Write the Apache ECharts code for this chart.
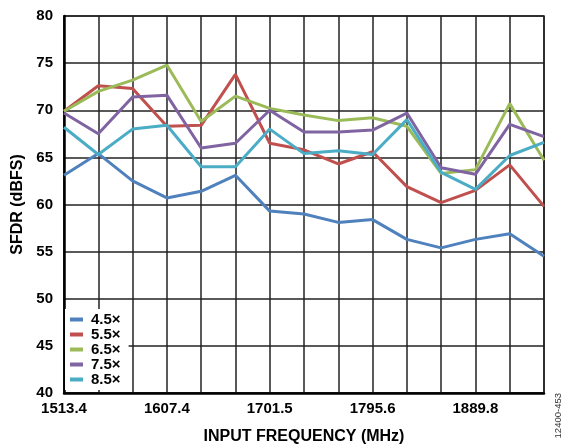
<!DOCTYPE html>
<html>
<head>
<meta charset="utf-8">
<script src="https://cdn.jsdelivr.net/npm/echarts@6/dist/echarts.min.js"></script>
<style>
  html, body { margin: 0; padding: 0; background: #fff; }
  #chart { width: 564px; height: 446px; }
</style>
</head>
<body>
<div id="chart"></div>
<script>
// Input frequencies (MHz); only every third one carries a label
var frequencies = ['1513.4', '1544.8', '1576.1', '1607.4', '1638.8', '1670.2', '1701.5',
  '1732.9', '1764.3', '1795.6', '1827.0', '1858.4', '1889.8', '1921.1', '1952.5'];

// SFDR (dBFS) per decimation/interpolation setting
var sfdr45 = [63.1, 65.4, 62.5, 60.7, 61.4, 63.1, 59.3, 59.0, 58.1, 58.4, 56.3, 55.4, 56.3, 56.9, 54.5];
var sfdr55 = [69.9, 72.6, 72.3, 68.3, 68.4, 73.8, 66.5, 65.8, 64.3, 65.6, 61.9, 60.2, 61.5, 64.2, 59.8];
var sfdr65 = [69.9, 72.0, 73.2, 74.8, 68.8, 71.5, 70.2, 69.5, 68.9, 69.2, 68.3, 63.3, 63.7, 70.7, 64.7];
var sfdr75 = [69.7, 67.5, 71.4, 71.6, 66.0, 66.5, 70.0, 67.7, 67.7, 67.9, 69.7, 63.9, 63.2, 68.5, 67.2];
var sfdr85 = [68.2, 65.3, 68.0, 68.4, 64.0, 64.0, 68.0, 65.4, 65.7, 65.3, 69.0, 63.4, 61.6, 65.2, 66.6];

var seriesNames = ['4.5×', '5.5×', '6.5×', '7.5×', '8.5×'];
var seriesColors = ['#4F81BD', '#C0504D', '#9BBB59', '#8064A2', '#4BACC6'];
var seriesData = [sfdr45, sfdr55, sfdr65, sfdr75, sfdr85];

var yMin = 40, yMax = 80, yStep = 5;

var font = 'Liberation Sans, Arial, sans-serif';

var chart = echarts.init(document.getElementById('chart'), null, { renderer: 'canvas' });

var series = seriesNames.map(function (name, i) {
  return {
    name: name,
    type: 'line',
    data: seriesData[i],
    showSymbol: false,
    symbol: 'none',
    color: seriesColors[i],
    lineStyle: { width: 3, color: seriesColors[i] },
    z: 3
  };
});

chart.setOption({
  animation: false,
  backgroundColor: '#ffffff',
  grid: {
    left: 64, right: 20, top: 16, bottom: 53,
    outerBoundsMode: 'none',
    containLabel: false,
    show: true,
    borderColor: '#222',
    borderWidth: 1.5
  },
  legend: {
    orient: 'vertical',
    left: 65,
    top: 309,
    itemWidth: 13,
    itemHeight: 4,
    itemGap: 0,
    icon: 'rect',
    backgroundColor: '#ffffff',
    padding: [3, 8, 3, 5],
    z: 10,
    textStyle: {
      fontFamily: font,
      fontWeight: 'bold',
      fontSize: 15,
      lineHeight: 15,
      color: '#000',
      padding: [0, 0, 0, 3]
    },
    data: seriesNames
  },
  xAxis: {
    type: 'category',
    data: frequencies,
    boundaryGap: false,
    name: 'INPUT FREQUENCY (MHz)',
    nameLocation: 'middle',
    nameGap: 36,
    nameTextStyle: { fontFamily: font, fontWeight: 'bold', fontSize: 16, color: '#000' },
    axisLine: { show: true, lineStyle: { color: '#000', width: 2.5 } },
    axisTick: { show: false },
    axisLabel: {
      interval: 2,
      margin: 8,
      fontFamily: font,
      fontWeight: 'bold',
      fontSize: 15,
      color: '#000'
    },
    splitLine: { show: true, interval: 0, lineStyle: { color: '#222', width: 1.5 } }
  },
  yAxis: {
    type: 'value',
    min: yMin,
    max: yMax,
    interval: yStep,
    name: 'SFDR (dBFS)',
    nameLocation: 'middle',
    nameGap: 38,
    nameTextStyle: { fontFamily: font, fontWeight: 'bold', fontSize: 16, color: '#000' },
    axisLine: { show: true, lineStyle: { color: '#000', width: 2.5 } },
    axisTick: { show: false },
    axisLabel: {
      margin: 11,
      fontFamily: font,
      fontWeight: 'bold',
      fontSize: 15,
      color: '#000'
    },
    splitLine: { show: true, lineStyle: { color: '#222', width: 1.5 } }
  },
  graphic: [{
    type: 'text',
    left: 553,
    top: 393,
    rotation: Math.PI / 2,
    originX: 0,
    originY: 0,
    style: {
      text: '12400-453',
      fontFamily: font,
      fontSize: 9.5,
      fill: '#333'
    }
  }],
  series: series
});
</script>
</body>
</html>
